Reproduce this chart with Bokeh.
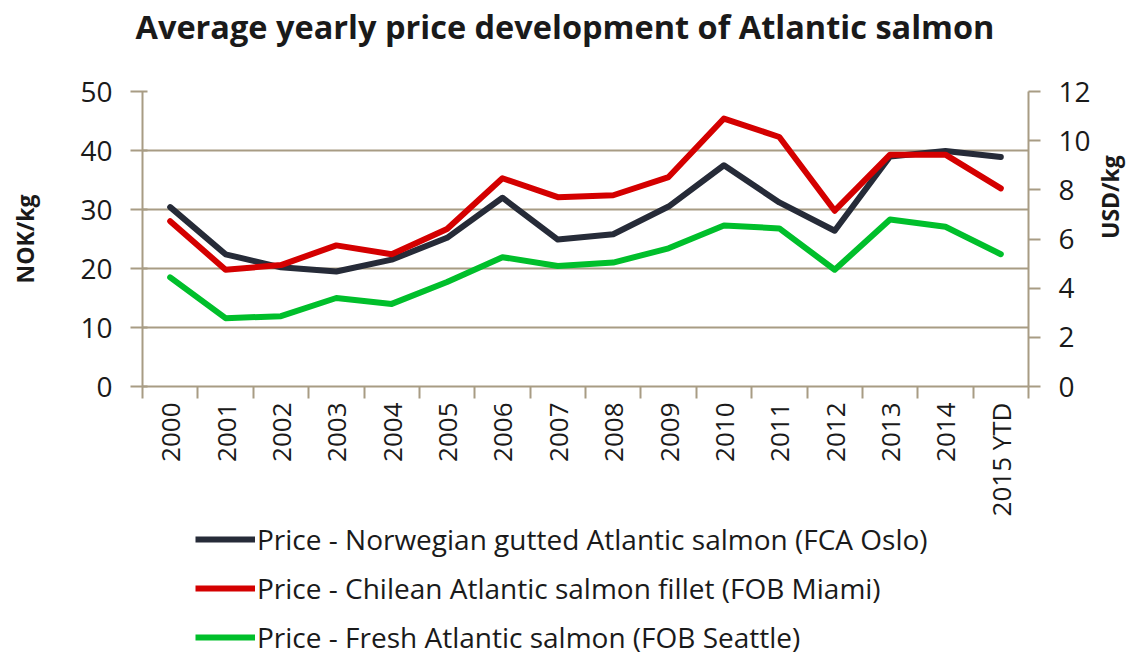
import math
from bokeh.plotting import figure
from bokeh.layouts import column
from bokeh.models import (LinearAxis, Range1d, FixedTicker, CustomJSTickFormatter,
                          Legend, LegendItem, SingleIntervalTicker, Grid, Title)
from bokeh.embed import file_html
from bokeh.resources import INLINE

years = ["2000", "2001", "2002", "2003", "2004", "2005", "2006", "2007",
         "2008", "2009", "2010", "2011", "2012", "2013", "2014", "2015 YTD"]
# NOK/kg (left axis)
norway_nok = [30.4, 22.4, 20.2, 19.5, 21.5, 25.2, 32.0, 24.9,
              25.8, 30.5, 37.5, 31.2, 26.4, 39.0, 39.9, 38.9]
# USD/kg (right axis)
chile_usd = [6.72, 4.75, 4.94, 5.74, 5.38, 6.41, 8.47, 7.70,
             7.78, 8.52, 10.90, 10.15, 7.15, 9.43, 9.43, 8.06]
seattle_usd = [4.44, 2.78, 2.86, 3.60, 3.36, 4.25, 5.26, 4.90,
               5.04, 5.62, 6.55, 6.43, 4.75, 6.79, 6.50, 5.38]

labels = ["Price - Norwegian gutted Atlantic salmon (FCA Oslo)",
          "Price - Chilean Atlantic salmon fillet (FOB Miami)",
          "Price - Fresh Atlantic salmon (FOB Seattle)"]
colors = ["#262B38", "#D40000", "#00BF2B"]

FONT = "Open Sans"
TAN = "#A89C84"
TXT = "#1A1A1A"
YTICK_FS = "28px"
XTICK_FS = "26px"
LEG_FS = "28px"

xs = [i + 0.5 for i in range(len(years))]

p = figure(width=1144, height=519, output_backend="svg", toolbar_location=None,
           x_range=Range1d(0, len(years)), y_range=Range1d(0, 50),
           min_border_left=142, min_border_right=116, min_border_top=91,
           min_border_bottom=133, x_axis_type=None, y_axis_type=None)
p.outline_line_color = None
p.background_fill_color = "white"
p.border_fill_color = "white"
p.extra_y_ranges = {"usd": Range1d(0, 12)}

# spacer between frame and title, then the title itself
spacer = Title(text=" ", text_font_size="10px", standoff=30, text_color="white")
p.add_layout(spacer, "above")
p.title.text = "Average yearly price development of Atlantic salmon"
p.title.text_font = FONT
p.title.text_font_size = "32.5px"
p.title.text_font_style = "bold"
p.title.text_color = TXT
p.title.align = "left"
p.title.offset = -7
p.title.vertical_align = "bottom"
p.title.standoff = 0

# left axis
ly = LinearAxis(ticker=SingleIntervalTicker(interval=10), axis_label="NOK/kg")
ly.axis_line_color = TAN
ly.axis_line_width = 2
ly.major_tick_line_color = TAN
ly.major_tick_line_width = 2
ly.major_tick_out = 12
ly.major_tick_in = 5
ly.minor_tick_line_color = None
ly.major_label_text_font = FONT
ly.major_label_text_font_size = YTICK_FS
ly.major_label_text_color = TXT
ly.major_label_standoff = 18
ly.axis_label_text_font = FONT
ly.axis_label_text_font_size = "23px"
ly.axis_label_text_font_style = "bold"
ly.axis_label_text_color = TXT
ly.axis_label_standoff = 36
p.add_layout(ly, "left")

# right axis
ry = LinearAxis(y_range_name="usd", ticker=SingleIntervalTicker(interval=2), axis_label="USD/kg")
ry.axis_line_color = TAN
ry.axis_line_width = 2
ry.major_tick_line_color = TAN
ry.major_tick_line_width = 2
ry.major_tick_out = 12
ry.major_tick_in = 0
ry.minor_tick_line_color = None
ry.major_label_text_font = FONT
ry.major_label_text_font_size = YTICK_FS
ry.major_label_text_color = TXT
ry.major_label_standoff = 18
ry.axis_label_text_font = FONT
ry.axis_label_text_font_size = "23px"
ry.axis_label_text_font_style = "bold"
ry.axis_label_text_color = TXT
ry.axis_label_text_line_height = 1.0
ry.axis_label_standoff = 16
ry.axis_label_orientation = math.pi / 2
p.add_layout(ry, "right")

# x axis: labels at category centres, ticks at boundaries (minor ticks)
xa = LinearAxis(ticker=FixedTicker(ticks=xs, minor_ticks=list(range(len(years) + 1))))
xa.formatter = CustomJSTickFormatter(args=dict(labels=years),
                                     code="const l = labels[Math.floor(tick)]; return l === undefined ? '' : l;")
xa.axis_line_color = TAN
xa.axis_line_width = 2
xa.major_tick_line_color = None
xa.major_tick_out = 0
xa.major_tick_in = 0
xa.minor_tick_line_color = TAN
xa.minor_tick_line_width = 2
xa.minor_tick_out = 12
xa.minor_tick_in = 0
xa.major_label_orientation = math.pi / 2
xa.major_label_text_font = FONT
xa.major_label_text_font_size = XTICK_FS
xa.major_label_text_color = TXT
xa.major_label_standoff = 4
p.add_layout(xa, "below")

# horizontal gridlines
g = Grid(dimension=1, ticker=SingleIntervalTicker(interval=10))
g.grid_line_color = TAN
g.grid_line_width = 2
p.add_layout(g)

p.line(xs, norway_nok, line_color=colors[0], line_width=6, line_join="round", line_cap="round")
p.line(xs, chile_usd, y_range_name="usd", line_color=colors[1], line_width=6, line_join="round", line_cap="round")
p.line(xs, seattle_usd, y_range_name="usd", line_color=colors[2], line_width=6, line_join="round", line_cap="round")

# legend strip below the chart; its lines carry the same series but lie
# outside this strip's (empty) value window, so only the legend shows
lf = figure(width=1144, height=138, output_backend="svg", toolbar_location=None,
            x_axis_type=None, y_axis_type=None, min_border=0,
            x_range=Range1d(0, len(years)), y_range=Range1d(-2, -1))
lf.outline_line_color = None
lf.grid.visible = False
lf.background_fill_color = "white"
lf.border_fill_color = "white"
series = [norway_nok, chile_usd, seattle_usd]
items = []
for lab, col, ys in zip(labels, colors, series):
    r = lf.line(xs, ys, line_color=col, line_width=6)
    items.append(LegendItem(label=lab, renderers=[r]))
legend = Legend(items=items, location=(53, 1), orientation="vertical")
legend.background_fill_alpha = 0
legend.border_line_color = None
legend.padding = 0
legend.margin = 0
legend.glyph_width = 60
legend.glyph_height = 26
legend.label_height = 26
legend.spacing = 11
legend.label_standoff = 2
legend.label_text_font = FONT
legend.label_text_font_size = LEG_FS
legend.label_text_color = TXT
lf.add_layout(legend, "center")

layout = column(p, lf, spacing=0)
open("out.html", "w").write(file_html(layout, INLINE))
